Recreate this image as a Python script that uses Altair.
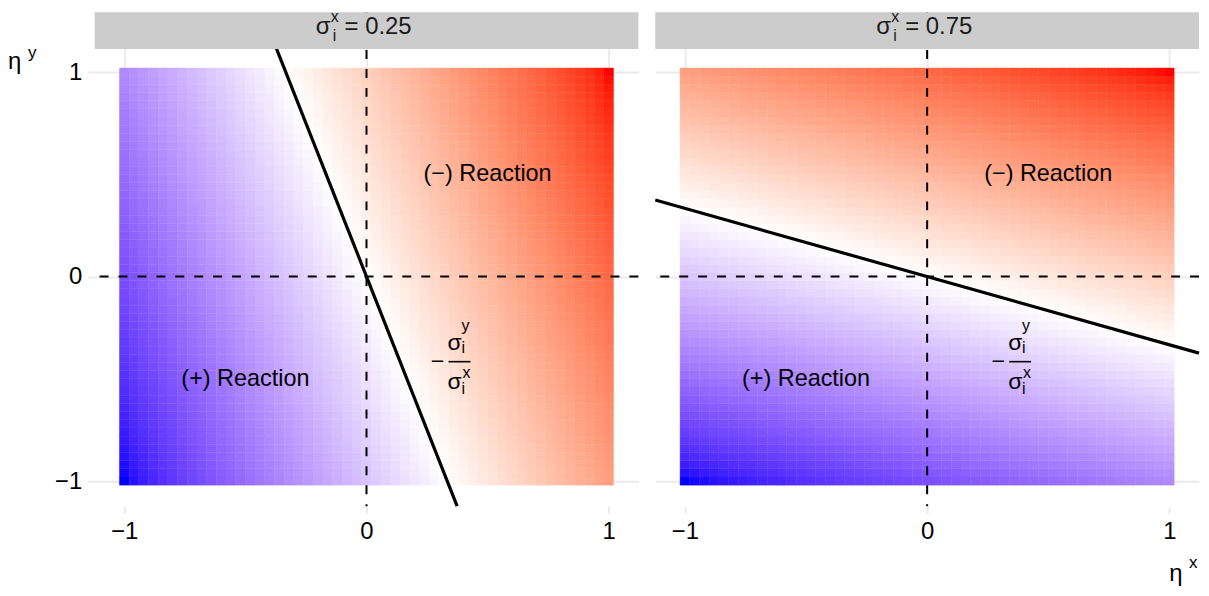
import altair as alt
import numpy as np
import pandas as pd

alt.data_transformers.disable_max_rows()

# ---- data ----
sigma_x = [0.25, 0.75]
strip_values = ["0.25", "0.75"]
line_slopes = [-3.0, -1.0 / 3.0]
grid_centers = np.round(np.linspace(-1, 1, 51), 4)  # tile centres
tile_half = 0.02
tick_values = [-1, 0, 1]
tick_labels = ["\u22121", "0", "1"]
region_text = ["(\u2212) Reaction", "(+) Reaction"]
region_x = [0.5, -0.5]
region_y = [0.5, -0.5]
frac_x = [0.351]
frac_y = [-0.416]

FONT = "Liberation Sans"
W, H = 546, 496
TOP = 35          # top of data area inside the view (strip above)
STRIP_H = 37
LIM = 1.1224
label_expr = "datum.value < 0 ? '%s' : (datum.value > 0 ? '%s' : '%s')" % (
    tick_labels[0], tick_labels[2], tick_labels[1])

xscale = alt.Scale(domain=[-LIM, LIM], nice=False, zero=False)
yscale = alt.Scale(domain=[-LIM, LIM], range=[H, TOP], nice=False, zero=False)
cscale = alt.Scale(domain=[-1, 0, 1], range=["#0000FF", "#FFFFFF", "#FF0000"], interpolate="lab")

axis_common = dict(values=tick_values, grid=True, gridColor="#EBEBEB", gridWidth=2,
                   domain=False, title=None)


def panel(i):
    sx = sigma_x[i]
    a, b = 1 - sx, sx
    gx, gy = np.meshgrid(grid_centers, grid_centers)
    df = pd.DataFrame({"x": gx.ravel(), "y": gy.ravel()})
    df["x0"] = df.x - tile_half
    df["x1"] = df.x + tile_half
    df["y0"] = df.y - tile_half
    df["y1"] = df.y + tile_half
    df["v"] = a * df.x + b * df.y

    xaxis = alt.Axis(**axis_common, ticks=True, tickColor="#EBEBEB", tickWidth=2, tickSize=7,
                     labelFontSize=24, labelFont=FONT, labelColor="black", labelPadding=7,
                     labelFlush=False, labelExpr=label_expr)
    if i == 0:
        yaxis = alt.Axis(**axis_common, ticks=True, tickColor="#EBEBEB", tickWidth=2, tickSize=7,
                         labelFontSize=24, labelFont=FONT, labelColor="black", labelPadding=6,
                         labelFlush=False, labelExpr=label_expr)
    else:
        yaxis = alt.Axis(**axis_common, ticks=False, labels=False)

    tiles = alt.Chart(df).mark_rect(strokeWidth=0.4).encode(
        x=alt.X("x0:Q", scale=xscale, axis=xaxis),
        x2="x1:Q",
        y=alt.Y("y0:Q", scale=yscale, axis=yaxis),
        y2="y1:Q",
        color=alt.Color("v:Q", scale=cscale, legend=None),
        stroke=alt.Stroke("v:Q", scale=cscale, legend=None),
    )

    zero = pd.DataFrame({"z": [0.0]})
    vline = alt.Chart(zero).mark_rule(color="black", strokeWidth=2, strokeDash=[9, 10]).encode(x="z:Q")
    hline = alt.Chart(zero).mark_rule(color="black", strokeWidth=2, strokeDash=[9, 10]).encode(y="z:Q")

    s = line_slopes[i]
    # clip the line y = s*x to the panel box
    xa = max(-LIM, LIM / s if s < 0 else -LIM / s)
    xb = -xa
    ab = pd.DataFrame({"xa": [xa], "ya": [s * xa], "xb": [xb], "yb": [s * xb]})
    abline = alt.Chart(ab).mark_rule(color="black", strokeWidth=3.2).encode(
        x="xa:Q", y="ya:Q", x2="xb:Q", y2="yb:Q")

    reg = pd.DataFrame({"t": region_text, "x": region_x, "y": region_y})
    regions = alt.Chart(reg).mark_text(fontSize=23.5, font=FONT, color="black",
                                       align="center", baseline="middle").encode(
        x="x:Q", y="y:Q", text="t:N")

    fr = pd.DataFrame({"fx": frac_x, "fy": frac_y})
    base_f = alt.Chart(fr)

    def ftxt(t, dx, dy, size, align="left"):
        return base_f.mark_text(text=t, fontSize=size, font=FONT, color="black", align=align,
                                baseline="alphabetic", dx=dx, dy=dy).encode(x="fx:Q", y="fy:Q")
    frac = [
        ftxt("\u2212", -14, 7, 23.5, "center"),
        base_f.mark_rule(color="black", strokeWidth=1.6, xOffset=-3, x2Offset=19).encode(
            x="fx:Q", x2="fx:Q", y="fy:Q"),
        ftxt("\u03c3", -4, -12, 23),
        ftxt("y", 10, -31, 16),
        ftxt("i", 10, -9, 16),
        ftxt("\u03c3", -4, 27, 23),
        ftxt("x", 11, 16, 16),
        ftxt("i", 10, 32, 16),
    ]

    one = pd.DataFrame({"lab": [strip_values[i]]})
    strip = alt.Chart(one).mark_rect(color="#CCCCCC").encode(
        x=alt.value(0), x2=alt.value(W), y=alt.value(0), y2=alt.value(STRIP_H))
    cx = W / 2

    def stxt(t, dx, y, size):
        return alt.Chart(one).mark_text(text=t, fontSize=size, font=FONT, color="#1A1A1A",
                                        align="left", baseline="alphabetic").encode(
            x=alt.value(cx + dx), y=alt.value(y))
    strip_texts = [
        stxt("\u03c3", -51, 22, 24),
        stxt("x", -36, 10, 16),
        stxt("i", -34, 29, 16),
        alt.Chart(one).mark_text(fontSize=24, font=FONT, color="#1A1A1A", align="left",
                                 baseline="alphabetic").encode(
            x=alt.value(cx - 22), y=alt.value(22), text=alt.Text("lab:N")).transform_calculate(
            lab="'= ' + datum.lab"),
    ]

    layers = [tiles, vline, hline, abline, regions] + frac + [strip] + strip_texts

    def otxt(t, x, y, size):
        return alt.Chart(one).mark_text(text=t, fontSize=size, font=FONT, color="black",
                                        align="left", baseline="alphabetic").encode(
            x=alt.value(x), y=alt.value(y))
    if i == 0:
        layers += [otxt("\u03b7", -87, 57, 24), otxt("y", -67, 46, 17)]
    else:
        layers += [otxt("\u03b7", 516, 571, 24), otxt("x", 536, 558, 17)]

    return alt.layer(*layers).properties(width=W, height=H)


chart = alt.hconcat(panel(0), panel(1), spacing=14).properties(
    padding={"left": 0, "top": 0, "right": 0, "bottom": 0},
    background="white",
).configure_view(strokeWidth=0)

chart.save("out.html", embed_options={"renderer": "svg", "actions": False})
